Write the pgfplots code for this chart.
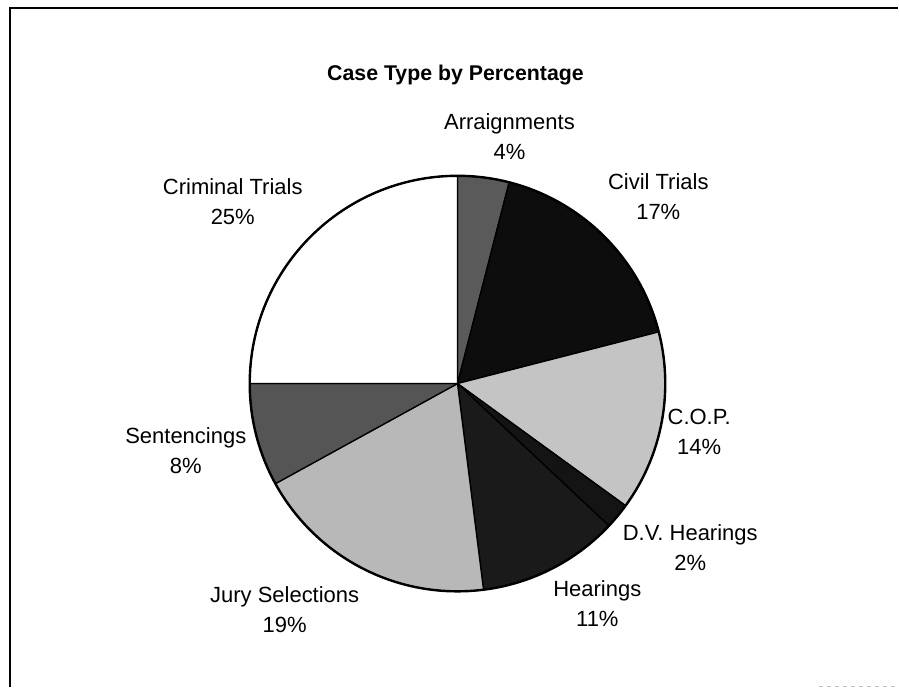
\documentclass[border=0pt]{standalone}
\usepackage{pgfplots}
\pgfplotsset{compat=1.18}
\usepackage{fontspec}
\setmainfont{Liberation Sans}
\definecolor{arr}{HTML}{5A5A5A}
\definecolor{civ}{HTML}{0D0D0D}
\definecolor{cop}{HTML}{C4C4C4}
\definecolor{dvh}{HTML}{141414}
\definecolor{hea}{HTML}{1A1A1A}
\definecolor{jur}{HTML}{B8B8B8}
\definecolor{sen}{HTML}{555555}
\definecolor{cri}{HTML}{FFFFFF}
\newcommand{\labfont}{\fontsize{16.5}{22.5}\selectfont}
\begin{document}
\begin{tikzpicture}
\begin{axis}[x=0.75pt,y=0.75pt,xmin=0,xmax=899,ymin=0,ymax=688,
  hide axis,scale only axis,clip=false]
\addplot[fill=white,draw=none] coordinates {(0,0)(899,0)(899,688)(0,688)} -- cycle;
\addplot[black,line width=1.5pt] coordinates {(10,0)(10,680)(899,680)};
\addplot[black!25,dashed,line width=1pt] coordinates {(820,1)(899,1)};
\node[font=\bfseries\fontsize{16}{18}\selectfont] at (axis cs:456,613) {Case Type by Percentage};
\xdef\curang{90}
\foreach \pct/\col/\name/\lx/\ly in {
  4/arr/Arraignments/510/551,
  17/civ/Civil Trials/659/491,
  14/cop/C.O.P./700/256,
  2/dvh/D.V. Hearings/691/140,
  11/hea/Hearings/598/84,
  19/jur/Jury Selections/285/78,
  8/sen/Sentencings/186/237,
  25/cri/Criminal Trials/233/486}{%
  \pgfmathsetmacro\a{\curang}%
  \pgfmathsetmacro\d{-\pct*3.6}%
  \pgfmathsetmacro\e{\curang-\pct*3.6}%
  \edef\tmp{\noexpand\filldraw[fill=\col,draw=black,line width=1pt,line join=round]
    (axis cs:458,304) -- ([shift={(\a:156pt)}]axis cs:458,304)
    arc[start angle=\a,delta angle=\d,radius=156pt] -- cycle;
    \noexpand\node[align=center,font=\noexpand\labfont] at (axis cs:\lx,\ly)
    {\name\noexpand\\\pct\noexpand\%};}%
  \tmp
  \xdef\curang{\e}%
}
\draw[black,line width=1.8pt] (axis cs:458,304) circle[radius=156pt];
\end{axis}
\end{tikzpicture}
\end{document}
